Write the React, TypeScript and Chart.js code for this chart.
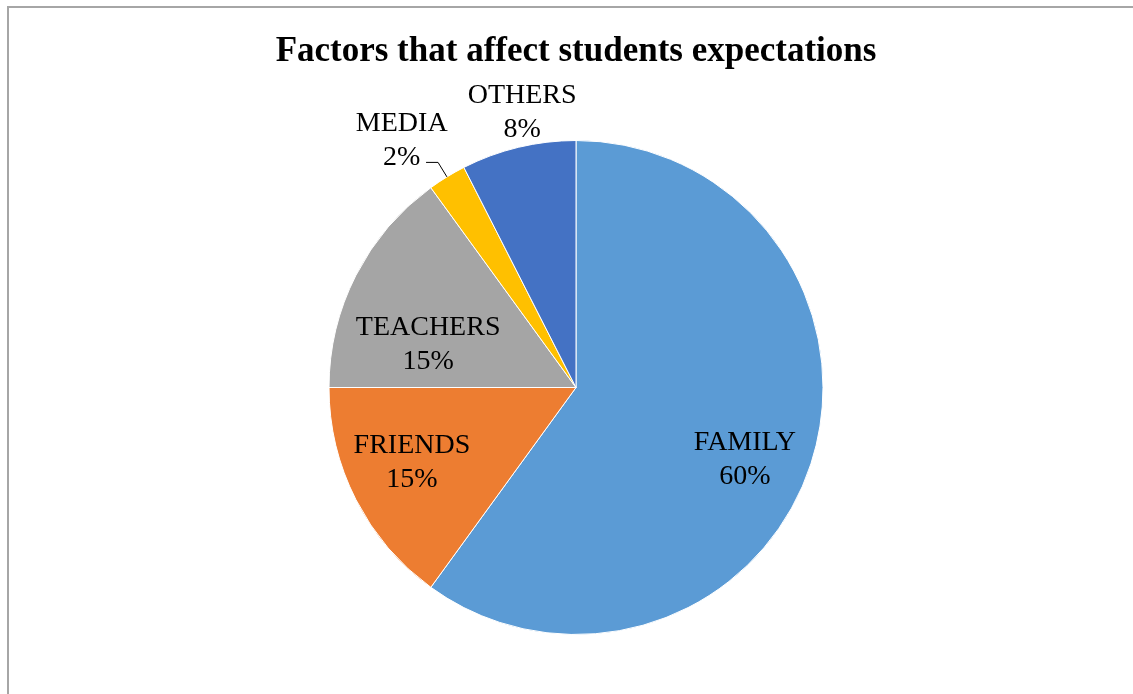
import React, { useEffect, useRef } from "react";
import { Chart, registerables } from "chart.js";

Chart.register(...registerables);

const TITLE = "Factors that affect students expectations";
const CATEGORIES = ["FAMILY", "FRIENDS", "TEACHERS", "MEDIA", "OTHERS"];
const VALUES = [60, 15, 15, 2.5, 7.5];
const PERCENT_LABELS = ["60%", "15%", "15%", "2%", "8%"];
const COLORS = ["#5B9BD5", "#ED7D31", "#A5A5A5", "#FFC000", "#4472C4"];
// label placement: radius as fraction of the pie radius, angle shift in degrees
const LABEL_RADIUS = [0.74, 0.727, 0.626, 1.23, 1.143];
const LABEL_ANGLE_SHIFT = [4.5, 3, -10, -3.5, 2.5];
const LABEL_LEADER = [false, false, false, true, false];

const FONT = '"Liberation Serif", "Times New Roman", serif';

const labelPlugin = {
  id: "pieLabels",
  afterDatasetsDraw(chart: any) {
    const ctx = chart.ctx;
    const meta = chart.getDatasetMeta(0);
    ctx.save();
    ctx.font = `28px ${FONT}`;
    ctx.fillStyle = "#000";
    ctx.textAlign = "center";
    ctx.textBaseline = "middle";
    const lh = 34;
    meta.data.forEach((arc: any, i: number) => {
      const { x, y, startAngle, endAngle, outerRadius } = arc.getProps(
        ["x", "y", "startAngle", "endAngle", "outerRadius"],
        true
      );
      const mid = (startAngle + endAngle) / 2;
      const ang = mid + (LABEL_ANGLE_SHIFT[i] * Math.PI) / 180;
      const r = outerRadius * LABEL_RADIUS[i];
      const cx = x + Math.cos(ang) * r;
      const cy = y + Math.sin(ang) * r + 2;
      ctx.fillText(CATEGORIES[i], cx, cy - lh / 2);
      ctx.fillText(PERCENT_LABELS[i], cx, cy + lh / 2);
      if (LABEL_LEADER[i]) {
        const x0 = x + Math.cos(mid) * outerRadius;
        const y0 = y + Math.sin(mid) * outerRadius;
        const x1 = x + Math.cos(mid) * (outerRadius + 17);
        const y1 = y + Math.sin(mid) * (outerRadius + 17);
        ctx.strokeStyle = "#000";
        ctx.lineWidth = 1;
        ctx.beginPath();
        ctx.moveTo(x0, y0);
        ctx.lineTo(x1, y1);
        ctx.lineTo(x1 - 12, y1);
        ctx.stroke();
      }
    });
    ctx.restore();
  },
};

export default function App() {
  const ref = useRef<HTMLCanvasElement>(null);
  useEffect(() => {
    if (!ref.current) return;
    const chart = new Chart(ref.current, {
      type: "pie",
      data: {
        labels: CATEGORIES,
        datasets: [
          {
            data: VALUES,
            backgroundColor: COLORS,
            borderColor: "#ffffff",
            borderWidth: 1,
            hoverOffset: 0,
          },
        ],
      },
      options: {
        responsive: false,
        animation: false,
        events: [],
        layout: { padding: { left: 19, right: 0, top: 0, bottom: 59 } },
        plugins: {
          legend: { display: false },
          tooltip: { enabled: false },
          title: {
            display: true,
            text: TITLE,
            color: "#000",
            font: { family: FONT, size: 35, weight: "bold", lineHeight: 1.2 },
            padding: { top: 31, bottom: 67 },
          },
        },
      },
      plugins: [labelPlugin],
    });
    return () => chart.destroy();
  }, []);
  return (
    <div
      style={{
        position: "absolute",
        left: 0,
        top: 0,
        width: 1133,
        height: 694,
        overflow: "hidden",
        background: "#fff",
      }}
    >
      <div
        style={{
          position: "absolute",
          left: 7,
          top: 6,
          width: 1300,
          height: 900,
          borderTop: "2px solid #a6a6a6",
          borderLeft: "2px solid #a6a6a6",
        }}
      />
      <canvas
        ref={ref}
        width={1133}
        height={694}
        style={{ position: "absolute", left: 0, top: 0, width: 1133, height: 694 }}
      />
    </div>
  );
}
